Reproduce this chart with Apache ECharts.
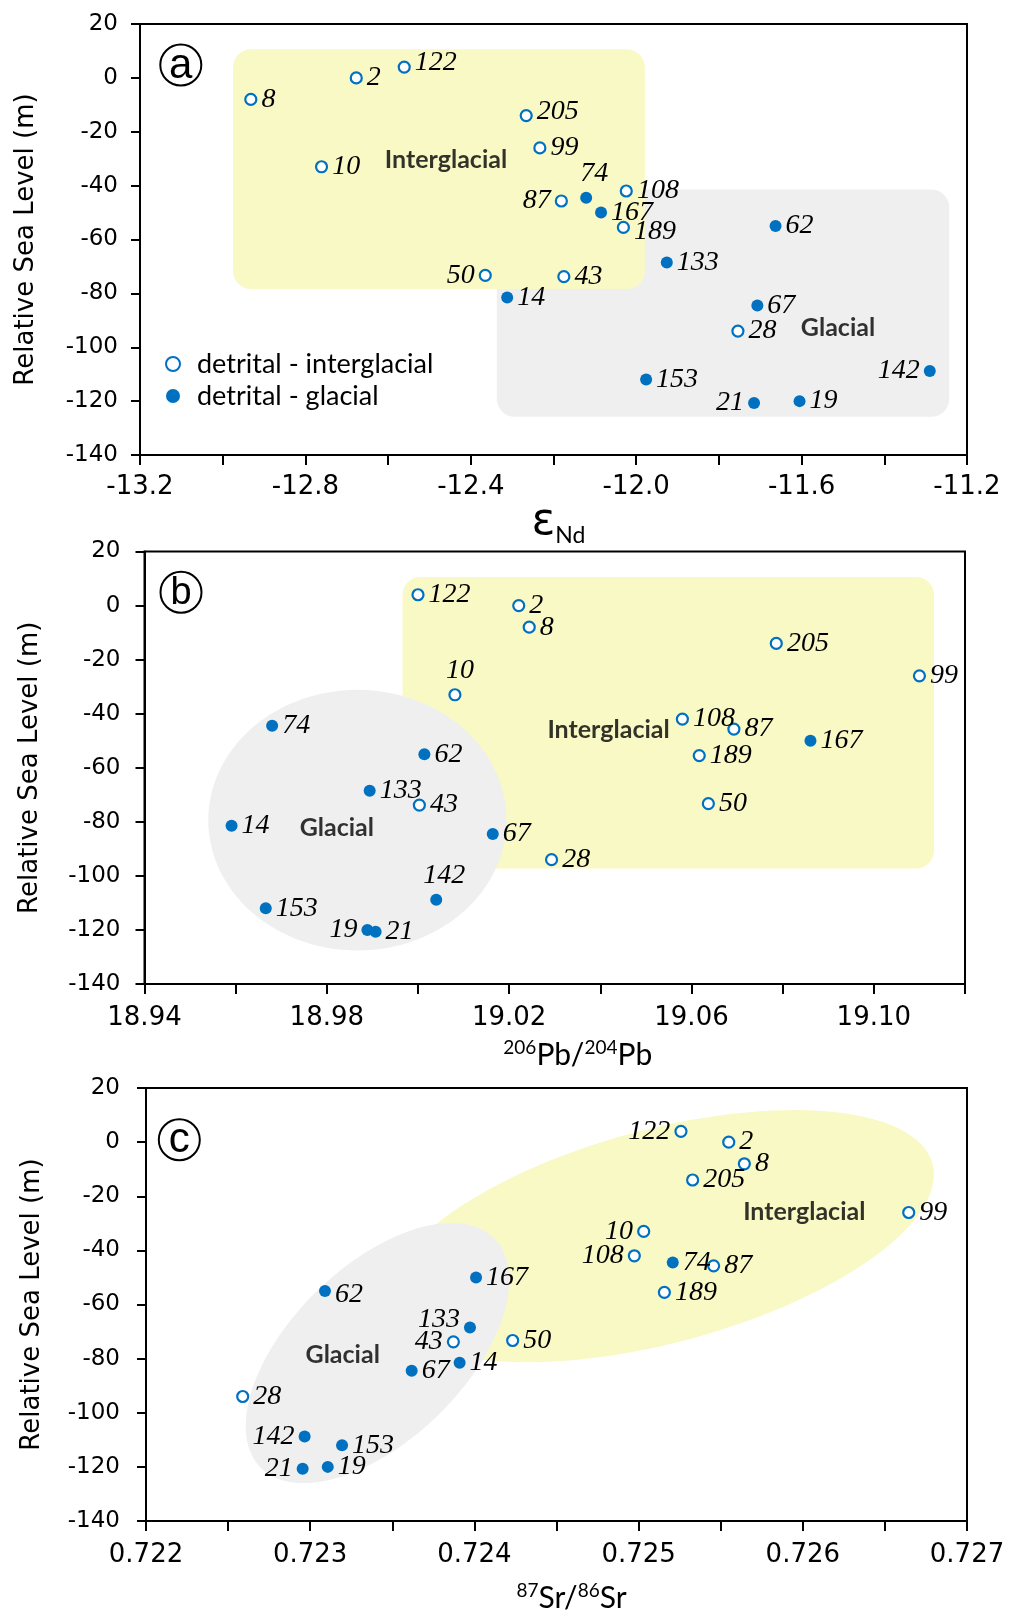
<!DOCTYPE html>
<html>
<head>
<meta charset="utf-8">
<script src="https://cdn.jsdelivr.net/npm/echarts@6/dist/echarts.min.js"></script>
<style>
  html, body { margin: 0; padding: 0; background: #fff; }
  #chart { width: 1021px; height: 1614px; }
</style>
</head>
<body>
<div id="chart"></div>
<script>
// ---------------- DATA ----------------
const sampleIds = ['2','8','122','205','99','10','108','74','87','167','189','62','133','50','43','14','67','28','142','153','21','19'];
const seaLevel  = [0,-8,4,-14,-26,-33,-42,-44.5,-45.7,-50,-55.5,-55,-68.5,-73.3,-73.8,-81.5,-84.5,-94,-108.8,-112,-120.7,-120];
// 1 = glacial (filled), 0 = interglacial (open)
const isGlacial = [0,0,0,0,0,0,0,1,0,1,0,1,1,0,0,1,1,0,1,1,1,1];
const epsNd     = [-12.677,-12.932,-12.561,-12.266,-12.233,-12.761,-12.024,-12.121,-12.181,-12.085,-12.031,-11.663,-11.926,-12.365,-12.175,-12.312,-11.707,-11.754,-11.290,-11.976,-11.715,-11.605];
const pb206204  = [19.0221,19.0244,19.0000,19.0786,19.1100,19.0081,19.0580,18.9680,19.0693,19.0861,19.0617,19.0014,18.9894,19.0637,19.0003,18.9591,19.0164,19.0293,19.0040,18.9666,18.9907,18.9889];
const sr8786    = [0.725549,0.725644,0.725258,0.725329,0.726645,0.725031,0.724974,0.725208,0.725457,0.724010,0.725157,0.723090,0.723973,0.724233,0.723872,0.723910,0.723618,0.722589,0.722966,0.723194,0.722954,0.723107];

// shaded regions (data coordinates): rect = [x1,y1,x2,y2]; ellipse = [majorEnd1 x,y, majorEnd2 x,y, minor/major ratio]
const rectA_glacial      = [-12.337, -41.4, -11.243, -125.8];
const rectA_interglacial = [-12.975, 10.6, -11.979, -78.4];
const rectB_interglacial = [18.9966, 10.6, 19.1132, -97.3];
const ellB_glacial       = [18.95399, -79.4, 19.01941, -79.4, 0.874];
const ellC_interglacial  = [0.723480, -61.5, 0.726790, -8.0, 0.38];
const ellC_glacial       = [0.722697, -120.2, 0.724123, -35.7, 0.53];

const regionTextA = [[-12.46, -30.5, 'Interglacial'], [-11.512, -92.8, 'Glacial']];
const regionTextB = [[19.0418, -46.0, 'Interglacial'], [18.9822, -82.4, 'Glacial']];
const regionTextC = [[0.726009, -25.8, 'Interglacial'], [0.723198, -78.6, 'Glacial']];

const yTicks = { min: -140, max: 20, step: 20 };
const xTicksA = { min: -13.2, max: -11.2, step: 0.2, dec: 1 };
const xTicksB = { min: 18.94, max: 19.12, step: 0.02, dec: 2 };
const xTicksC = { min: 0.722, max: 0.727, step: 0.0005, dec: 3 };

const seriesNames = ['detrital - interglacial', 'detrital - glacial'];
const panelLetters = ['a', 'b', 'c'];

// label placement (styling, not data)
const labelPlaceA = {'74':['top',8,0],'87':['left',0,0],'50':['left',0,0],'142':['left',0,0],'21':['left',0,0],'189':['right',0,4],'122':['right',0,-4],'205':['right',0,-4]};
const labelPlaceB = {'10':['top',5,0],'142':['top',8,0],'19':['left',0,0]};
const labelPlaceC = {'122':['left',0,0],'10':['left',0,0],'108':['left',0,0],'43':['left',0,0],'133':['left',0,-8],'142':['left',0,0],'21':['left',0,0],'62':['right',0,4]};

// ---------------- STYLE ----------------
const BLUE = '#0070C0';
const YELLOW = '#F9F9C6';
const GRAY = '#EFEFEF';
const grids = [
  { left: 140, top: 24, width: 827, height: 431 },
  { left: 144.5, top: 551.5, width: 820.5, height: 432.5 },
  { left: 146, top: 1088, width: 821, height: 433 }
];

function buildPoints(xs, place, glacialFlag) {
  const out = [];
  for (let i = 0; i < sampleIds.length; i++) {
    if (isGlacial[i] !== glacialFlag) continue;
    const p = place[sampleIds[i]];
    const item = { value: [xs[i], seaLevel[i]], name: sampleIds[i] };
    if (p) item.label = { position: p[0], offset: [p[1], p[2]] };
    out.push(item);
  }
  return out;
}

const labelStyle = {
  show: true, formatter: '{b}', position: 'right', distance: 4,
  color: '#000', fontFamily: 'Liberation Serif', fontStyle: 'italic', fontSize: 28
};

function scatterPair(g, xs, place) {
  return [
    { type: 'scatter', name: seriesNames[0], xAxisIndex: g, yAxisIndex: g, z: 5,
      symbol: 'circle', symbolSize: 11,
      itemStyle: { color: '#fff', borderColor: BLUE, borderWidth: 2.2, opacity: 1 },
      label: labelStyle, data: buildPoints(xs, place, 0), silent: true },
    { type: 'scatter', name: seriesNames[1], xAxisIndex: g, yAxisIndex: g, z: 5,
      symbol: 'circle', symbolSize: 12,
      itemStyle: { color: BLUE, opacity: 1 },
      label: labelStyle, data: buildPoints(xs, place, 1), silent: true }
  ];
}

function rectSeries(g, rect, color) {
  return { type: 'custom', xAxisIndex: g, yAxisIndex: g, z: 1, silent: true,
    encode: { x: [0, 2], y: [1, 3] }, data: [rect],
    renderItem: function (params, api) {
      const p1 = api.coord([api.value(0), api.value(1)]);
      const p2 = api.coord([api.value(2), api.value(3)]);
      return { type: 'rect',
        shape: { x: Math.min(p1[0], p2[0]), y: Math.min(p1[1], p2[1]),
                 width: Math.abs(p2[0] - p1[0]), height: Math.abs(p2[1] - p1[1]), r: 18 },
        style: { fill: color } };
    } };
}

function ellipseSeries(g, ell, color) {
  return { type: 'custom', xAxisIndex: g, yAxisIndex: g, z: 1, silent: true,
    encode: { x: [0, 2], y: [1, 3] }, data: [ell],
    renderItem: function (params, api) {
      const p1 = api.coord([api.value(0), api.value(1)]);
      const p2 = api.coord([api.value(2), api.value(3)]);
      const ratio = api.value(4);
      const cx = (p1[0] + p2[0]) / 2, cy = (p1[1] + p2[1]) / 2;
      const a = Math.hypot(p2[0] - p1[0], p2[1] - p1[1]) / 2;
      const b = a * ratio;
      const ang = Math.atan2(p2[1] - p1[1], p2[0] - p1[0]);
      const pts = [];
      for (let k = 0; k < 120; k++) {
        const t = k / 120 * Math.PI * 2;
        pts.push([cx + a * Math.cos(t) * Math.cos(ang) - b * Math.sin(t) * Math.sin(ang),
                  cy + a * Math.cos(t) * Math.sin(ang) + b * Math.sin(t) * Math.cos(ang)]);
      }
      return { type: 'polygon', shape: { points: pts }, style: { fill: color } };
    } };
}

function regionTextSeries(g, items) {
  return { type: 'scatter', xAxisIndex: g, yAxisIndex: g, z: 6, silent: true,
    symbolSize: 0, itemStyle: { color: 'rgba(0,0,0,0)' },
    label: { show: true, position: 'inside', formatter: '{b}', color: '#000',
             fontFamily: 'Lato', fontWeight: 'bold', fontSize: 25 },
    data: items.map(d => ({ value: [d[0], d[1]], name: d[2] })) };
}

function xAxis(g, t, name, rich, margin, nameGap, pad) {
  return { type: 'value', gridIndex: g, min: t.min, max: t.max, interval: t.step,
    axisLine: { show: true, onZero: false, lineStyle: { color: '#000', width: 2 } },
    axisTick: { show: true, length: 10, lineStyle: { color: '#000', width: 2 } },
    splitLine: { show: false },
    axisLabel: { color: '#000', fontFamily: 'DejaVu Sans', fontSize: 26, margin: margin,
      formatter: function (v) {
        const idx = Math.round((v - t.min) / t.step);
        return idx % 2 === 0 ? v.toFixed(t.dec) : '';
      } },
    name: name, nameLocation: 'middle', nameGap: nameGap,
    nameTextStyle: { color: '#000', rich: rich, padding: [0, 0, 0, pad] } };
}

function yAxis(g, margin) {
  return { type: 'value', gridIndex: g, min: yTicks.min, max: yTicks.max, interval: yTicks.step,
    axisLine: { show: true, onZero: false, lineStyle: { color: '#000', width: 2 } },
    axisTick: { show: true, length: 9, lineStyle: { color: '#000', width: 2 } },
    splitLine: { show: false },
    axisLabel: { color: '#000', fontFamily: 'DejaVu Sans', fontSize: 23, margin: margin },
    name: 'Relative Sea Level (m)', nameLocation: 'middle', nameGap: 101,
    nameTextStyle: { color: '#000', fontFamily: 'DejaVu Sans', fontSize: 26 } };
}

const richA = {
  e: { fontFamily: 'DejaVu Sans', fontSize: 44, lineHeight: 44, verticalAlign: 'bottom', color: '#000' },
  s: { fontFamily: 'Lato', fontSize: 23, lineHeight: 23, verticalAlign: 'bottom', color: '#000', padding: [0, 0, -2, 0] }
};
const richSup = {
  n: { fontFamily: 'Lato', fontSize: 30, lineHeight: 32, verticalAlign: 'bottom', color: '#000' },
  p: { fontFamily: 'Lato', fontSize: 19, lineHeight: 19, verticalAlign: 'top', color: '#000' }
};

const letterPos = [[180.8, 65], [181, 592.3], [179.3, 1139.7]];
const graphic = [];
letterPos.forEach(function (p, i) {
  graphic.push({ type: 'circle', shape: { cx: p[0], cy: p[1], r: 20.5 }, silent: true,
    style: { fill: 'rgba(0,0,0,0)', stroke: '#000', lineWidth: 2 }, z: 10 });
  graphic.push({ type: 'text', x: p[0], y: p[1] + 1, silent: true, z: 10,
    style: { text: panelLetters[i], fontFamily: 'Liberation Sans', fontSize: i === 1 ? 38 : 42,
             fill: '#000', align: 'center', verticalAlign: 'middle',
             textAlign: 'center', textVerticalAlign: 'middle' } });
});

const option = {
  animation: false,
  backgroundColor: '#fff',
  grid: grids.map(g => Object.assign({ show: true, borderColor: '#000', borderWidth: 2, backgroundColor: 'transparent' }, g)),
  xAxis: [
    xAxis(0, xTicksA, '{e|ε}{s|Nd}', richA, 19, 36, 10),
    xAxis(1, xTicksB, '{p|206}{n|Pb/}{p|204}{n|Pb}', richSup, 21, 54, 46),
    xAxis(2, xTicksC, '{p|87}{n|Sr/}{p|86}{n|Sr}', richSup, 21, 60, 30)
  ],
  yAxis: [yAxis(0, 22), yAxis(1, 24), yAxis(2, 26)],
  legend: {
    data: seriesNames, orient: 'vertical', left: 160, top: 345,
    itemWidth: 14, itemHeight: 14, itemGap: 4, selectedMode: false,
    textStyle: { fontFamily: 'Lato', fontSize: 27, color: '#000', lineHeight: 28, padding: [0, 0, 0, 12] }
  },
  graphic: graphic,
  series: [
    rectSeries(0, rectA_glacial, GRAY),
    rectSeries(0, rectA_interglacial, YELLOW),
    rectSeries(1, rectB_interglacial, YELLOW),
    ellipseSeries(1, ellB_glacial, GRAY),
    ellipseSeries(2, ellC_interglacial, YELLOW),
    ellipseSeries(2, ellC_glacial, GRAY),
    regionTextSeries(0, regionTextA),
    regionTextSeries(1, regionTextB),
    regionTextSeries(2, regionTextC)
  ].concat(scatterPair(0, epsNd, labelPlaceA))
   .concat(scatterPair(1, pb206204, labelPlaceB))
   .concat(scatterPair(2, sr8786, labelPlaceC))
};

const chart = echarts.init(document.getElementById('chart'), null, { renderer: 'canvas' });
chart.setOption(option);
</script>
</body>
</html>
